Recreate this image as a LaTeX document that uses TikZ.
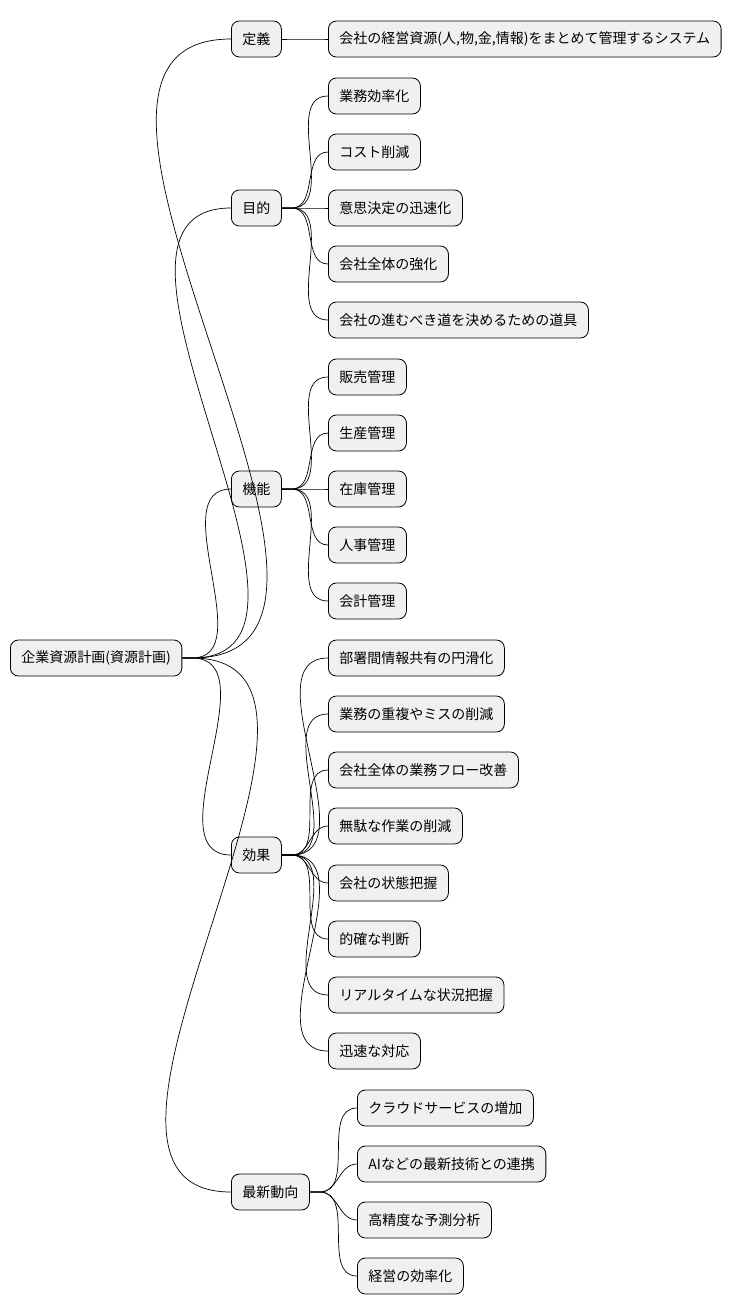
\documentclass[tikz,border=0pt]{standalone}
\usepackage{fontspec}
\setmainfont{Noto Sans CJK JP}
\begin{document}
\begin{tikzpicture}[x=1pt,y=-1pt,
  box/.style={draw=black,fill=black!6,rounded corners=8pt,minimum height=36pt,inner xsep=11pt,anchor=west,font=\fontsize{14}{17}\selectfont,line width=0.8pt},
  link/.style={draw=black,line width=0.7pt}]
\useasboundingbox (0,0) rectangle (734,1315);
\node[box] (root) at (10,658) {企業資源計画(資源計画)};
\node[box] (a) at (231,39) {定義};
\node[box] (b) at (231,208) {目的};
\node[box] (c) at (231,489) {機能};
\node[box] (d) at (231,855) {効果};
\node[box] (e) at (231,1192) {最新動向};
\node[box] (a1) at (328,39) {会社の経営資源(人,物,金,情報)をまとめて管理するシステム};
\node[box] (b1) at (328,96) {業務効率化};
\node[box] (b2) at (328,152) {コスト削減};
\node[box] (b3) at (328,208) {意思決定の迅速化};
\node[box] (b4) at (328,264) {会社全体の強化};
\node[box] (b5) at (328,320) {会社の進むべき道を決めるための道具};
\node[box] (c1) at (328,377) {販売管理};
\node[box] (c2) at (328,433) {生産管理};
\node[box] (c3) at (328,489) {在庫管理};
\node[box] (c4) at (328,545) {人事管理};
\node[box] (c5) at (328,601) {会計管理};
\node[box] (d1) at (328,658) {部署間情報共有の円滑化};
\node[box] (d2) at (328,714) {業務の重複やミスの削減};
\node[box] (d3) at (328,770) {会社全体の業務フロー改善};
\node[box] (d4) at (328,826) {無駄な作業の削減};
\node[box] (d5) at (328,883) {会社の状態把握};
\node[box] (d6) at (328,939) {的確な判断};
\node[box] (d7) at (328,995) {リアルタイムな状況把握};
\node[box] (d8) at (328,1051) {迅速な対応};
\node[box] (e1) at (357,1108) {クラウドサービスの増加};
\node[box] (e2) at (357,1164) {AIなどの最新技術との連携};
\node[box] (e3) at (357,1220) {高精度な予測分析};
\node[box] (e4) at (357,1276) {経営の効率化};
\foreach \c in {a,b,c,d,e}
  \draw[link] (root.east) -- ++(10,0) to[out=0,in=180] (\c.west);
\foreach \p/\l in {a/a1,b/b1,b/b2,b/b3,b/b4,b/b5,c/c1,c/c2,c/c3,c/c4,c/c5,d/d1,d/d2,d/d3,d/d4,d/d5,d/d6,d/d7,d/d8,e/e1,e/e2,e/e3,e/e4}
  \draw[link] (\p.east) -- ++(10,0) to[out=0,in=180] (\l.west);
\end{tikzpicture}
\end{document}
